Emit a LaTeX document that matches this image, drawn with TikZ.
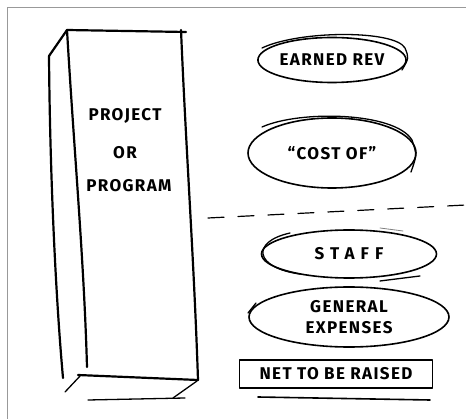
\documentclass[tikz,border=0pt]{standalone}
\usepackage{fontspec}
\setmainfont{Fira Sans}
\usetikzlibrary{shapes.geometric}
\begin{document}
\begin{tikzpicture}[x=1pt,y=-1pt, line width=2.2pt, line cap=round, line join=round,
  oval/.style={ellipse, draw, line width=1.6pt, inner sep=0pt},
  lbl/.style={font=\fontsize{17}{21}\bfseries\selectfont\addfontfeature{LetterSpace=8}},
  wide/.style={font=\fontsize{17}{21}\bfseries\selectfont\addfontfeature{LetterSpace=36}},
  thin stroke/.style={line width=1.3pt}]
\useasboundingbox (0,0) rectangle (466,419);
\fill[white] (0,0) rectangle (466,419);
\draw[gray!80, line width=1pt, line cap=butt] (7,419) -- (7,8) -- (466,8);
% pillar
\coordinate (ftl) at (67,30);
\coordinate (ftr) at (181,30);
\coordinate (ftx) at (186,32);
\coordinate (fbl) at (87,367);
\coordinate (fbr) at (198,380);
\coordinate (bbl) at (78,375);
\coordinate (stl) at (49,56);
\coordinate (sbl) at (63,378);
\draw (ftl) -- (ftx);
\draw (ftl) .. controls (74,150) and (84,260) .. (fbl);
\draw (ftr) .. controls (186,150) and (194,260) .. (fbr);
\draw (bbl) -- (fbr);
\draw (ftl) -- (stl);
\draw (stl) .. controls (50,180) and (56,300) .. (sbl);
\coordinate (s1a) at (65,392); \coordinate (s1b) at (81,375);
\coordinate (s2a) at (173,398); \coordinate (s2b) at (197,381);
\coordinate (b1) at (88,400); \coordinate (b2) at (185,398);
\draw[thin stroke] (s1a) -- (s1b);
\draw[thin stroke] (s2a) -- (s2b);
\draw[thin stroke] (b1) -- (b2);
\node[lbl] (proj) at (125,116) {PROJECT};
\node[lbl] (or) at (125,153) {OR};
\node[lbl] (prog) at (129,186) {PROGRAM};
% ovals
\node[oval, minimum width=148pt, minimum height=45pt, lbl] (earned) at (332,60) {EARNED REV};
\draw[thin stroke] (262,48) .. controls (300,30) and (395,30) .. (405,48) .. controls (409,58) .. (402,70);
\node[oval, minimum width=168pt, minimum height=70pt, lbl] (cost) at (332,153) {``COST OF''};
\draw[thin stroke] (262,127) .. controls (300,110) and (395,112) .. (412,140) .. controls (417,155) .. (411,172);
\coordinate (d1) at (208,218);
\coordinate (d2) at (466,205);
\draw[line width=1.2pt, dash pattern=on 16pt off 14pt] (d1) -- (d2);
\coordinate (sa) at (380,228); \coordinate (sb) at (403,231);
\draw[line width=0.8pt, gray] (sa) -- (sb);
\node[oval, minimum width=175pt, minimum height=48pt, wide] (staff) at (349,254) {STAFF};
\draw[thin stroke] (290,233) .. controls (250,242) and (255,268) .. (300,274);
\coordinate (sc) at (380,281); \coordinate (sd) at (420,276);
\draw[thin stroke] (sc) -- (sd);
\node[oval, minimum width=200pt, minimum height=60pt, lbl, align=center] (gen) at (349,317) {GENERAL\\EXPENSES};
\coordinate (ga) at (248,313); \coordinate (gb) at (256,303);
\draw[thin stroke] (ga) -- (gb);
\node[draw, line width=1.6pt, minimum width=193pt, minimum height=28pt, lbl] (net) at (336,374) {NET TO BE RAISED};
\coordinate (u1) at (258,397); \coordinate (u2) at (430,400);
\draw[line width=1.6pt] (u1) -- (u2);
\end{tikzpicture}
\end{document}
